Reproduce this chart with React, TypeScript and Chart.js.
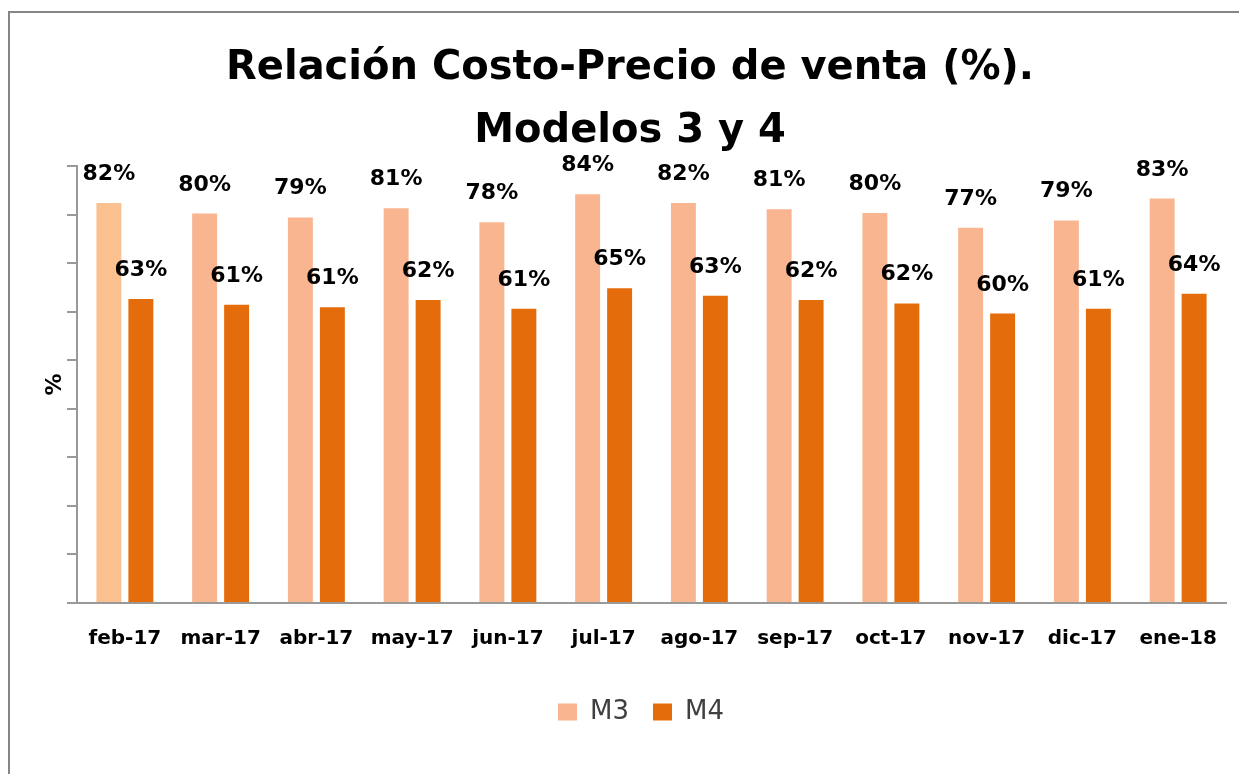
import React, { useEffect, useRef } from "react";
import { Chart, registerables } from "chart.js";

Chart.register(...registerables);

const categories = ["feb-17", "mar-17", "abr-17", "may-17", "jun-17", "jul-17", "ago-17", "sep-17", "oct-17", "nov-17", "dic-17", "ene-18"];
const m3Values = [82.4, 80.2, 79.4, 81.3, 78.4, 84.2, 82.4, 81.1, 80.3, 77.3, 78.8, 83.3];
const m4Values = [62.6, 61.4, 60.9, 62.4, 60.6, 64.8, 63.3, 62.4, 61.7, 59.6, 60.6, 63.7];
const yTicks = [0, 10, 20, 30, 40, 50, 60, 70, 80, 90];
const titleLines = ["Relación Costo-Precio de venta (%).", "Modelos 3 y 4"];

const FONT = "'DejaVu Sans', Verdana, sans-serif";
const M3_COLOR = "#F8B590";
const M3_FIRST = "#FAC090";
const M4_COLOR = "#E46C0A";
const legendColors = [M3_COLOR, M4_COLOR];

const dataLabels = {
  id: "dataLabels",
  afterDatasetsDraw(chart: any) {
    const ctx = chart.ctx;
    ctx.save();
    ctx.font = `bold 22px ${FONT}`;
    ctx.fillStyle = "#000";
    ctx.textAlign = "center";
    ctx.textBaseline = "alphabetic";
    chart.data.datasets.forEach((ds: any, di: number) => {
      const meta = chart.getDatasetMeta(di);
      meta.data.forEach((bar: any, i: number) => {
        const v = ds.data[i];
        ctx.fillText(Math.round(v) + "%", bar.x, bar.y - 23);
      });
    });
    ctx.restore();
  },
};

const legendShift = {
  id: "legendShift",
  afterLayout(chart: any) {
    if (chart.legend) {
      chart.legend.left += 11;
      chart.legend.right += 11;
    }
  },
};

export default function App() {
  const ref = useRef<HTMLCanvasElement>(null);
  useEffect(() => {
    if (!ref.current) return;
    const chart = new Chart(ref.current, {
      type: "bar",
      data: {
        labels: categories,
        datasets: [
          {
            label: "M3",
            data: m3Values,
            backgroundColor: m3Values.map((_, i) => (i === 0 ? M3_FIRST : M3_COLOR)),
            borderWidth: 0,
            categoryPercentage: 0.668,
            barPercentage: 0.78,
          },
          {
            label: "M4",
            data: m4Values,
            backgroundColor: M4_COLOR,
            borderWidth: 0,
            categoryPercentage: 0.668,
            barPercentage: 0.78,
          },
        ],
      },
      options: {
        responsive: false,
        animation: false,
        layout: { padding: { left: 24, right: 23, top: 0, bottom: 39 } },
        plugins: {
          tooltip: { enabled: false },
          title: {
            display: true,
            text: titleLines,
            color: "#000",
            font: { family: FONT, size: 40, weight: "bold", lineHeight: 1.575 },
            padding: { top: 24, bottom: 3 },
          },
          legend: {
            position: "bottom",
            labels: {
              boxWidth: 19,
              boxHeight: 17,
              padding: 24,
              color: "#404040",
              font: { family: FONT, size: 26 },
              generateLabels: (ch: any) => {
                const items = Chart.defaults.plugins.legend.labels.generateLabels(ch);
                items.forEach((it: any, i: number) => {
                  it.fillStyle = legendColors[i];
                  it.strokeStyle = legendColors[i];
                  it.lineWidth = 0;
                });
                return items;
              },
            },
          },
        },
        scales: {
          x: {
            afterFit: (s: any) => {
              s.height = 72;
            },
            grid: { display: false, drawTicks: false },
            border: { display: true, color: "#999", width: 2 },
            ticks: {
              padding: 24,
              color: "#000",
              font: { family: FONT, size: 20, weight: "bold" },
            },
          },
          y: {
            min: 0,
            max: 90,
            afterFit: (s: any) => {
              s.width = 43;
            },
            afterBuildTicks: (s: any) => {
              s.ticks = yTicks.map((v) => ({ value: v }));
            },
            grid: { drawOnChartArea: false, drawTicks: true, tickLength: 10, color: "#999", lineWidth: 2 },
            border: { display: true, color: "#999", width: 2 },
            ticks: { display: false, stepSize: 10 },
            title: {
              display: true,
              text: "%",
              color: "#000",
              font: { family: FONT, size: 22, weight: "bold" },
              padding: { top: 8, bottom: 0 },
            },
          },
        },
      } as any,
      plugins: [dataLabels, legendShift],
    });
    return () => chart.destroy();
  }, []);

  return (
    <div style={{ position: "absolute", left: 0, top: 0, width: 1239, height: 774, overflow: "hidden", background: "#fff" }}>
      <div
        style={{
          position: "absolute",
          left: 8,
          top: 11,
          width: 1300,
          height: 900,
          borderTop: "2px solid #868686",
          borderLeft: "2px solid #868686",
        }}
      >
        <canvas ref={ref} width={1239} height={761} style={{ position: "absolute", left: 0, top: 0, width: 1239, height: 761 }} />
      </div>
    </div>
  );
}
